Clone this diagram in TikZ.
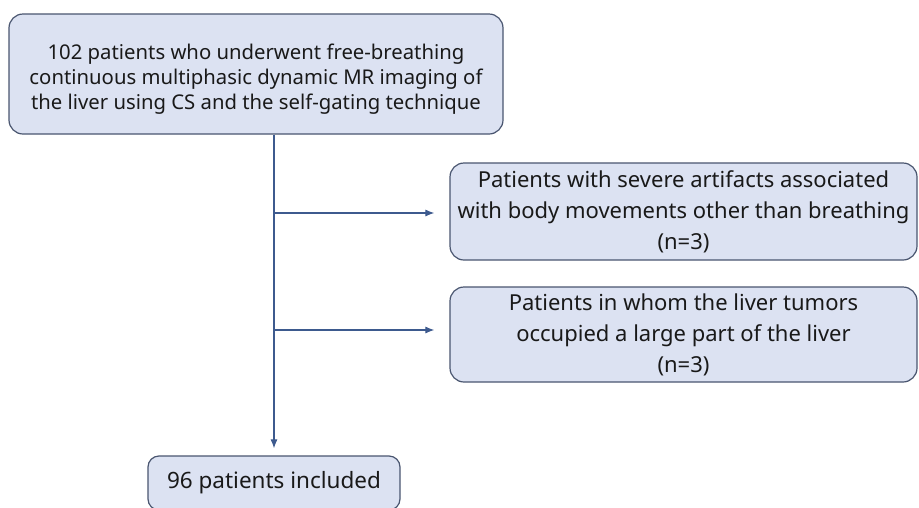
\documentclass[tikz,border=0pt]{standalone}
\usepackage{fontspec}
\setmainfont{Noto Sans}
\usetikzlibrary{arrows.meta}
\definecolor{boxfill}{HTML}{DCE2F2}
\definecolor{boxdraw}{HTML}{4A5670}
\definecolor{linecol}{HTML}{3D5A8E}
\tikzset{
  box/.style={draw=boxdraw, fill=boxfill, line width=1.2pt, rounded corners=14pt, align=center, inner sep=0pt, text=black!90},
  conn/.style={draw=linecol, line width=1.1pt, -{Latex[length=9pt,width=7pt]}}
}
\begin{document}
\begin{tikzpicture}[x=1pt,y=-1pt]
\useasboundingbox[fill=white] (0,0) rectangle (919,507);
\node[box, minimum width=494pt, minimum height=120pt] (top) at (256,74) {};
\node[align=center, inner sep=0pt, text=black!90, font=\fontsize{20.3}{25}\selectfont] (toptext) at (256,79) {102 patients who underwent free-breathing\\continuous multiphasic dynamic MR imaging of\\the liver using CS and the self-gating technique};
\node[box, font=\fontsize{22}{31}\selectfont, minimum width=467pt, minimum height=97pt] (ex1) at (683.5,211.5) {Patients with severe artifacts associated\\with body movements other than breathing\\(n=3)};
\node[box, font=\fontsize{22}{31}\selectfont, minimum width=467pt, minimum height=95pt] (ex2) at (683.5,334.5) {Patients in whom the liver tumors\\occupied a large part of the liver\\(n=3)};
\node[box, font=\fontsize{22.5}{27}\selectfont, rounded corners=11pt, minimum width=252pt, minimum height=54pt] (inc) at (274,483) {96 patients included};
\coordinate (b1) at (274,213);
\coordinate (b2) at (274,330);
\draw[conn] (top.south -| inc.north) -- ([yshift=7pt]inc.north);
\draw[conn] (b1) -- ([xshift=-15pt]ex1.west |- b1);
\draw[conn] (b2) -- ([xshift=-15pt]ex2.west |- b2);
\end{tikzpicture}
\end{document}
